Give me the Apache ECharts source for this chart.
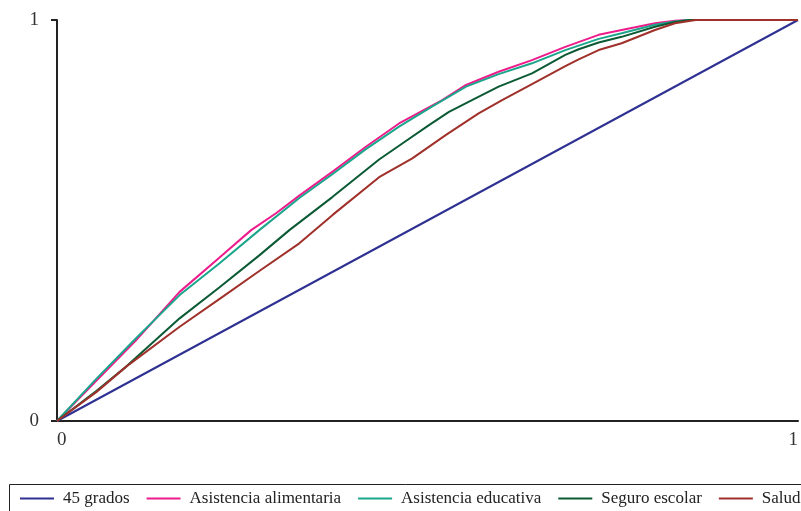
<!DOCTYPE html>
<html>
<head>
<meta charset="utf-8">
<script src="https://cdn.jsdelivr.net/npm/echarts@6/dist/echarts.min.js"></script>
<style>html,body{margin:0;padding:0;background:#fff}#c{width:801px;height:511px}</style>
</head>
<body>
<div id="c"></div>
<script>
const seriesNames = ['45 grados', 'Asistencia alimentaria', 'Asistencia educativa', 'Seguro escolar', 'Salud'];
const xTickLabels = ['0', '1'];
const yTickLabels = ['0', '1'];

const x45 = [0, 1];
const y45 = [0, 1];

const xAlim = [0, 0.053, 0.106, 0.1655, 0.219, 0.262, 0.2956, 0.327, 0.372, 0.4168, 0.4616, 0.5199, 0.552, 0.596, 0.641, 0.686, 0.731, 0.762, 0.807, 0.834, 0.852, 1];
const yAlim = [0, 0.10, 0.20, 0.322, 0.407, 0.476, 0.518, 0.562, 0.622, 0.684, 0.742, 0.800, 0.838, 0.871, 0.900, 0.933, 0.963, 0.975, 0.992, 0.998, 1, 1];

const xEduc = [0, 0.053, 0.106, 0.1655, 0.219, 0.273, 0.327, 0.372, 0.4168, 0.4616, 0.506, 0.552, 0.596, 0.641, 0.686, 0.731, 0.762, 0.807, 0.834, 0.852, 1];
const yEduc = [0, 0.105, 0.205, 0.314, 0.393, 0.476, 0.556, 0.616, 0.678, 0.734, 0.784, 0.834, 0.865, 0.892, 0.925, 0.953, 0.967, 0.988, 0.996, 1, 1];

const xSeg = [0, 0.053, 0.093, 0.1655, 0.219, 0.273, 0.3136, 0.372, 0.4347, 0.466, 0.502, 0.529, 0.560, 0.596, 0.641, 0.686, 0.704, 0.731, 0.762, 0.807, 0.834, 0.855, 1];
const ySeg = [0, 0.075, 0.135, 0.256, 0.333, 0.413, 0.476, 0.559, 0.652, 0.692, 0.738, 0.771, 0.800, 0.834, 0.867, 0.913, 0.927, 0.944, 0.958, 0.983, 0.995, 1, 1];

const xSal = [0, 0.053, 0.093, 0.1655, 0.219, 0.273, 0.327, 0.372, 0.4347, 0.4795, 0.5245, 0.569, 0.6007, 0.641, 0.686, 0.704, 0.731, 0.762, 0.807, 0.834, 0.862, 1];
const ySal = [0, 0.072, 0.135, 0.235, 0.304, 0.374, 0.443, 0.514, 0.608, 0.655, 0.713, 0.767, 0.800, 0.840, 0.885, 0.902, 0.925, 0.942, 0.975, 0.992, 1, 1];

const colors = ['#2E3192', '#EC1C8C', '#1BA68C', '#0B5A34', '#A0302A'];
const xs = [x45, xAlim, xEduc, xSeg, xSal];
const ys = [y45, yAlim, yEduc, ySeg, ySal];

const serifFont = '"Liberation Serif", "DejaVu Serif", serif';

const chart = echarts.init(document.getElementById('c'), null, {renderer: 'canvas'});
chart.setOption({
  animation: false,
  backgroundColor: '#fff',
  color: colors,
  grid: {left: 57, right: 1, top: 20, bottom: 90, containLabel: false},
  xAxis: {
    type: 'value', min: 0, max: 1, interval: 1,
    splitLine: {show: false},
    axisLine: {show: true, onZero: false, lineStyle: {color: '#222', width: 2}},
    axisTick: {show: false},
    axisLabel: {
      margin: 10, color: '#333', fontFamily: serifFont, fontSize: 19,
      alignMinLabel: 'left', alignMaxLabel: 'right',
      formatter: v => xTickLabels[Math.round(v)]
    }
  },
  yAxis: {
    type: 'value', min: 0, max: 1, interval: 1,
    splitLine: {show: false},
    axisLine: {show: true, lineStyle: {color: '#222', width: 2}},
    axisTick: {show: true, length: 6, lineStyle: {color: '#222', width: 2}},
    axisLabel: {
      margin: 18, color: '#333', fontFamily: serifFont, fontSize: 19,
      formatter: v => yTickLabels[Math.round(v)]
    }
  },
  legend: {
    left: 20, top: 490, padding: 0,
    itemWidth: 34, itemHeight: 2, itemGap: 17,
    icon: 'rect',
    textStyle: {fontFamily: serifFont, fontSize: 17, color: '#222', padding: [0, 0, 0, 4]},
    data: seriesNames
  },
  graphic: [{
    type: 'rect', silent: true,
    shape: {x: 9.5, y: 484.5, width: 820, height: 60},
    style: {fill: 'none', stroke: '#222', lineWidth: 1}
  }],
  series: seriesNames.map((n, i) => ({
    name: n, type: 'line', showSymbol: false, symbol: 'none',
    data: xs[i].map((x, j) => [x, ys[i][j]]),
    lineStyle: {width: 2, color: colors[i]},
    itemStyle: {color: colors[i]}
  }))
});
</script>
</body>
</html>
